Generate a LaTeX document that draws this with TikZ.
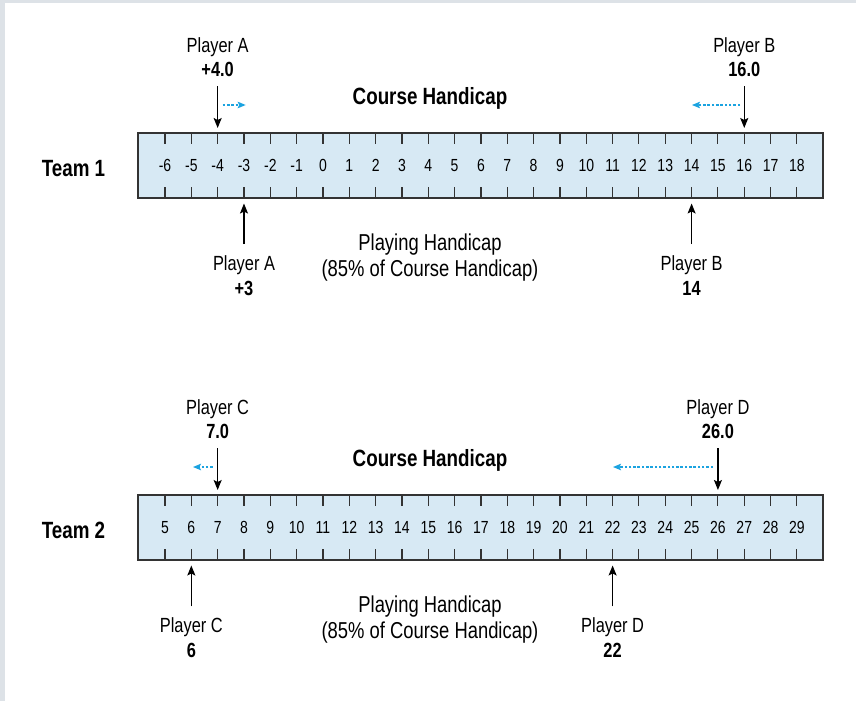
\documentclass[tikz,border=0pt]{standalone}
\usepackage{fontspec}
\setmainfont{Liberation Sans}[FakeStretch=0.8]
\usetikzlibrary{positioning,arrows.meta}

\definecolor{rulerfill}{HTML}{D7E9F4}
\definecolor{rulerline}{HTML}{333333}
\definecolor{shiftblue}{HTML}{1BA3E0}
\definecolor{framegray}{HTML}{DDE2E7}

\tikzstyle{ruler} = [rectangle, minimum width=685pt, minimum height=65pt,
draw=rulerline, fill=rulerfill, line width=1.5pt, inner sep=0pt]
\tikzstyle{tick} = [draw=rulerline, line width=1.1pt]
\tikzstyle{num} = [anchor=base, inner sep=1pt, font=\fontsize{17.5}{18}\selectfont]
\tikzstyle{team} = [anchor=base, inner sep=1pt, font=\fontsize{23.5}{24}\selectfont\bfseries]
\tikzstyle{heading} = [anchor=base, inner sep=1pt, font=\fontsize{23.5}{24}\selectfont\bfseries]
\tikzstyle{player} = [anchor=base, inner sep=1pt, font=\fontsize{20.5}{21}\selectfont]
\tikzstyle{value} = [anchor=base, inner sep=1pt, font=\fontsize{20.5}{21}\selectfont\bfseries]
\tikzstyle{note} = [anchor=base, inner sep=1pt, font=\fontsize{23}{24}\selectfont]
\tikzstyle{arrow} = [line width=1.2pt, -{Stealth[length=10pt,width=8pt,inset=2pt]}]
\tikzstyle{downarrow} = [arrow, shorten <=9pt, shorten >=5pt]
\tikzstyle{uparrow} = [arrow, shorten <=10.4pt, shorten >=5.5pt]
\tikzstyle{shiftarrow} = [draw=shiftblue, line width=1.3pt, dash pattern=on 2.5pt off 1.8pt,
-{Stealth[length=8pt,width=6.5pt,inset=1.5pt]}]

\begin{document}
\begin{tikzpicture}[x=1pt, y=-1pt]
    \useasboundingbox (0,0) rectangle (856,701);
    % Frame
    \fill [framegray] (0,0) rectangle (856,701);
    \fill [white] (5,3) rectangle (856,701);

    % Team 1 ruler
    \node (team1) [team] at (73.5,176.7) {Team 1};
    \node (ruler1) [ruler] at (480.5,165.5) {};
    \foreach \v [count=\k from 0] in {-6,...,18} {
        \coordinate (r1t\k) at (165+26.33*\k,133);
        \coordinate (r1b\k) at (165+26.33*\k,198);
        \draw [tick] (r1t\k) -- ++(0,11);
        \draw [tick] (r1b\k) -- ++(0,-11);
        \node (r1n\k) [num] at (165+26.33*\k,171.7) {\v};
    }
    % Team 1 course handicap
    \node (course1) [heading] at (430,104) {Course Handicap};
    \node (plA) [player] at (r1t2 |- 0,52.7) {Player A};
    \node (valA) [value] at (r1t2 |- 0,76) {+4.0};
    \node (plB) [player] at (r1t22 |- 0,52.7) {Player B};
    \node (valB) [value] at (r1t22 |- 0,76) {16.0};
    \draw [downarrow] (valA) -- (r1t2);
    \draw [downarrow] (valB) -- (r1t22);
    \coordinate (sA1) at (222.7,105);
    \coordinate (sA2) at (245.7,105);
    \coordinate (sB1) at (740,105);
    \coordinate (sB2) at (692,105);
    \draw [shiftarrow] (sA1) -- (sA2);
    \draw [shiftarrow] (sB1) -- (sB2);
    % Team 1 playing handicap
    \node (play1) [note] at (430,250) {Playing Handicap};
    \node (pct1) [note] at (430,276) {(85\% of Course Handicap)};
    \node (plA2) [player] at (r1b3 |- 0,270.7) {Player A};
    \node (valA2) [value] at (r1b3 |- 0,295) {+3};
    \node (plB2) [player] at (r1b20 |- 0,270.7) {Player B};
    \node (valB2) [value] at (r1b20 |- 0,295) {14};
    \draw [uparrow] (plA2) -- (r1b3);
    \draw [uparrow] (plB2) -- (r1b20);

    % Team 2 ruler
    \node (team2) [team] at (73.5,538.7) {Team 2};
    \node (ruler2) [ruler] at (480.5,527.5) {};
    \foreach \v [count=\k from 0] in {5,...,29} {
        \coordinate (r2t\k) at (165+26.33*\k,495);
        \coordinate (r2b\k) at (165+26.33*\k,560);
        \draw [tick] (r2t\k) -- ++(0,11);
        \draw [tick] (r2b\k) -- ++(0,-11);
        \node (r2n\k) [num] at (165+26.33*\k,533.7) {\v};
    }
    % Team 2 course handicap
    \node (course2) [heading] at (430,466) {Course Handicap};
    \node (plC) [player] at (r2t2 |- 0,414.7) {Player C};
    \node (valC) [value] at (r2t2 |- 0,438) {7.0};
    \node (plD) [player] at (r2t21 |- 0,414.7) {Player D};
    \node (valD) [value] at (r2t21 |- 0,438) {26.0};
    \draw [downarrow] (valC) -- (r2t2);
    \draw [downarrow] (valD) -- (r2t21);
    \coordinate (sC1) at (212.7,467);
    \coordinate (sC2) at (193,467);
    \coordinate (sD1) at (713,467);
    \coordinate (sD2) at (613,467);
    \draw [shiftarrow] (sC1) -- (sC2);
    \draw [shiftarrow] (sD1) -- (sD2);
    % Team 2 playing handicap
    \node (play2) [note] at (430,612) {Playing Handicap};
    \node (pct2) [note] at (430,638) {(85\% of Course Handicap)};
    \node (plC2) [player] at (r2b1 |- 0,632.7) {Player C};
    \node (valC2) [value] at (r2b1 |- 0,657) {6};
    \node (plD2) [player] at (r2b17 |- 0,632.7) {Player D};
    \node (valD2) [value] at (r2b17 |- 0,657) {22};
    \draw [uparrow] (plC2) -- (r2b1);
    \draw [uparrow] (plD2) -- (r2b17);
\end{tikzpicture}
\end{document}
